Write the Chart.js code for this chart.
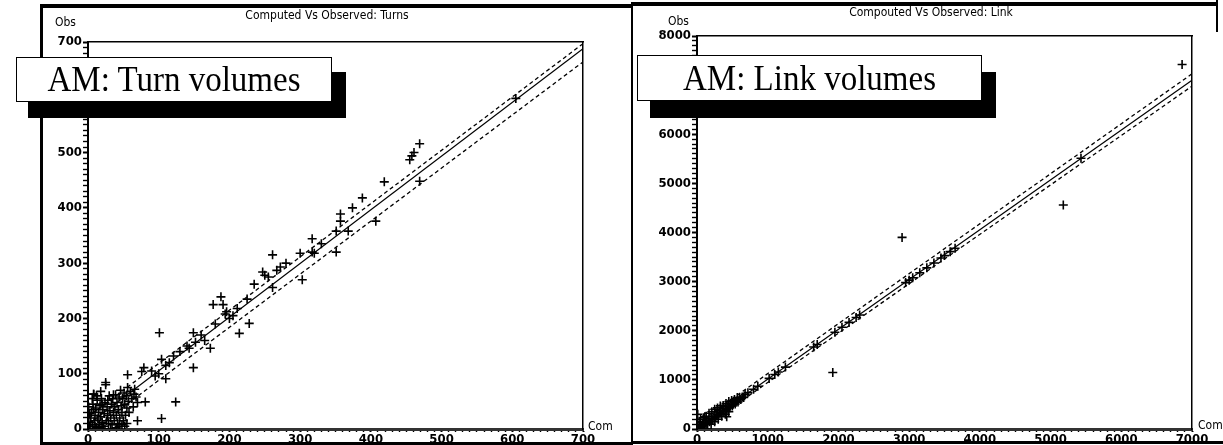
<!DOCTYPE html>
<html>
<head>
<meta charset="utf-8">
<script src="https://cdn.jsdelivr.net/npm/chart.js@4.4.1/dist/chart.umd.min.js"></script>
<style>
  html,body{margin:0;padding:0;background:#fff;width:1223px;height:445px;overflow:hidden;position:relative;}
  .abs{position:absolute;}
  .blk{position:absolute;background:#000;}
  .small{position:absolute;font-family:'DejaVu Sans Condensed','Liberation Sans Narrow',sans-serif;font-size:12px;color:#000;white-space:nowrap;}
  .banner{position:absolute;background:#fff;border:1.5px solid #000;font-family:'Liberation Serif','Times New Roman',serif;font-size:33px;color:#000;white-space:nowrap;text-align:center;box-sizing:border-box;}
  .banner span{display:inline-block;transform:scaleY(1.08);}
</style>
</head>
<body>
<canvas id="c1" class="abs" style="left:42px;top:0;width:590px;height:452px"></canvas>
<canvas id="c2" class="abs" style="left:633px;top:0;width:590px;height:452px"></canvas>

<!-- frame -->
<div class="blk" style="left:40px;top:4px;width:593px;height:4px"></div>
<div class="blk" style="left:632px;top:2px;width:586px;height:4px"></div>
<div class="blk" style="left:40px;top:4px;width:3px;height:441px"></div>
<div class="blk" style="left:40px;top:442px;width:592px;height:3px"></div>
<div class="blk" style="left:631px;top:2px;width:2px;height:443px"></div>
<div class="blk" style="left:631px;top:441px;width:592px;height:3px"></div>
<div class="blk" style="left:1216px;top:0px;width:2px;height:32px"></div>

<div class="small" id="t1" style="left:327px;top:8px;transform:translateX(-50%)"></div>
<div class="small" id="t2" style="left:931px;top:5px;transform:translateX(-50%)"></div>
<div class="small" style="left:55px;top:15px">Obs</div>
<div class="small" style="left:668px;top:14px">Obs</div>
<div class="small" style="left:588px;top:419px">Com</div>
<div class="small" style="left:1198px;top:418px">Com</div>

<div class="blk" style="left:28px;top:72px;width:318px;height:46px"></div>
<div class="banner" style="left:16px;top:57px;width:316px;height:45px;line-height:43px"><span id="b1"></span></div>
<div class="blk" style="left:650px;top:72px;width:346px;height:46px"></div>
<div class="banner" style="left:637px;top:55px;width:345px;height:46px;line-height:44px"><span id="b2"></span></div>

<script>
// ---- text ----
const titleTurns = "Computed Vs Observed: Turns";
const titleLink = "Compouted Vs Observed: Link";
const bannerTurns = "AM: Turn volumes";
const bannerLink = "AM: Link volumes";

// ---- axis ticks ----
const turnsTickMax = 700, turnsMinorStep = 10, turnsMajorStep = 100;
const linkXMax = 7000, linkYMax = 8000, linkMinorStep = 100, linkMajorStep = 1000;

// ---- Turns data (Computed, Observed) ----
const turnsCom = [2,3,4,5,6,7,8,9,10,11,12,13,14,15,16,17,18,19,20,21,22,23,24,25,26,27,28,29,30,31,32,33,34,35,36,37,38,39,40,41,42,43,44,45,46,47,48,49,50,51,52,53,54,55,56,57,58,60,62,64,66,68,70,1,2,3,6,8,10,12,15,18,20,24,28,32,36,40,44,48,52,55,
  101,177,188,191,261,247,250,261,272,267,303,300,317,317,351,351,357,357,368,374,407,228,214,211,194,196,173,149,149,152,143,124,104,70,110,104,121,110,79,76,56,81,65,25,8,
  90,95,100,115,130,140,160,165,180,200,205,225,235,255,280,320,330,
  605,458,461,469,455,419,388,469];
const turnsObs = [5,12,20,30,8,45,63,15,25,38,3,52,18,30,8,42,22,55,12,35,5,28,48,80,15,40,25,10,60,33,20,45,8,55,30,15,40,62,25,48,10,35,58,20,70,42,30,55,15,65,45,25,60,38,75,50,30,68,55,40,72,58,48,40,28,0,55,35,5,60,2,68,45,0,52,0,62,2,5,8,5,10,
  174,225,239,225,315,284,278,256,293,287,270,318,320,344,320,358,389,376,358,400,376,191,173,218,208,212,146,111,174,157,146,49,19,15,91,126,132,115,111,104,98,49,63,84,63,
  105,96,100,120,140,150,170,160,190,200,205,235,262,275,300,318,335,
  598,494,500,516,487,447,418,448];

// fitted line and band (Computed -> Observed)
const turnsFitCom = [0, 700];
const turnsFitObs = [8, 688];
const turnsUpperCom = [0, 700];
const turnsUpperObs = [22, 697];
const turnsLowerCom = [0, 700];
const turnsLowerObs = [-8, 664];

// ---- Link data (Computed, Observed) ----
const linkCom = [20,40,60,80,100,120,140,160,180,200,220,240,260,280,300,320,340,360,380,400,420,440,460,480,500,520,540,560,580,600,620,640,660,680,30,50,70,90,110,150,200,250,300,350,400,450,90,130,170,210,250,290,330,370,410,450,490,530,570,420,10,
  720,800,860,1020,1100,1150,1250,1650,1700,1950,2050,2150,2250,2300,2950,3000,3050,3150,3250,3350,3450,3500,3580,3650,
  1920,2900,5180,5430,6860];
const linkObs = [10,60,30,100,70,140,110,180,150,220,190,260,230,300,270,340,310,380,350,420,390,460,430,500,470,540,510,570,550,620,600,650,640,700,150,200,40,0,250,0,100,150,200,260,300,350,230,260,320,350,400,430,470,480,520,560,580,600,640,250,300,
  740,810,870,1030,1110,1160,1260,1670,1720,1970,2070,2170,2270,2320,2980,3030,3080,3180,3280,3380,3480,3530,3610,3680,
  1150,3900,4560,5510,7420];

const linkFitCom = [0, 7000];
const linkFitObs = [0, 7100];
const linkUpperCom = [0, 7000];
const linkUpperObs = [110, 7230];
const linkLowerCom = [0, 7000];
const linkLowerObs = [-60, 6980];

document.getElementById('t1').textContent = titleTurns;
document.getElementById('t2').textContent = titleLink;
document.getElementById('b1').textContent = bannerTurns;
document.getElementById('b2').textContent = bannerLink;

const FONT = "'DejaVu Sans Condensed','Liberation Sans Narrow',sans-serif";
const pts = (xs, ys) => xs.map((x, i) => ({x, y: ys[i]}));

function makeChart(id, cfg) {
  const majorLabel = (step) => (v) => (Math.round(v) % step === 0 ? String(Math.round(v)) : '');
  const majorWidth = (step) => (ctx) => (ctx.tick && Math.round(ctx.tick.value) % step === 0 ? 2 : 1.4);
  new Chart(document.getElementById(id), {
    type: 'scatter',
    data: {
      datasets: [
        {data: pts(cfg.com, cfg.obs), pointStyle: 'cross', pointRadius: 4.5, pointBorderWidth: 1.6,
         borderColor: '#000', backgroundColor: '#000', showLine: false},
        {data: pts(cfg.fitX, cfg.fitY), showLine: true, pointRadius: 0, borderColor: '#000', borderWidth: 1.2},
        {data: pts(cfg.upX, cfg.upY), showLine: true, pointRadius: 0, borderColor: '#000', borderWidth: 1.3, borderDash: [4, 3]},
        {data: pts(cfg.loX, cfg.loY), showLine: true, pointRadius: 0, borderColor: '#000', borderWidth: 1.3, borderDash: [4, 3]}
      ]
    },
    options: {
      responsive: false, animation: false, devicePixelRatio: 1,
      layout: {padding: {top: cfg.top, right: cfg.right, left: 0, bottom: 0}},
      plugins: {legend: {display: false}, tooltip: {enabled: false}},
      scales: {
        x: {type: 'linear', position: 'bottom', min: 0, max: cfg.xMax,
            afterFit: (s) => { s.height = cfg.xh; },
            ticks: {stepSize: cfg.minor, autoSkip: false, maxRotation: 0, minRotation: 0, padding: 0,
                    color: '#000', font: {family: FONT, size: 13, weight: 'bold'}, callback: majorLabel(cfg.major)},
            grid: {drawOnChartArea: false, drawTicks: true, tickLength: 3, color: '#000', tickWidth: majorWidth(cfg.major)},
            border: {display: true, color: '#333', width: 3}},
        y: {type: 'linear', position: 'left', min: 0, max: cfg.yMax,
            afterFit: (s) => { s.width = cfg.yw; },
            ticks: {stepSize: cfg.minor, autoSkip: false, padding: 1,
                    color: '#000', font: {family: FONT, size: 13, weight: 'bold'}, callback: majorLabel(cfg.major)},
            grid: {drawOnChartArea: false, drawTicks: true, tickLength: 5, color: '#000', tickWidth: majorWidth(cfg.major)},
            border: {display: true, color: '#000', width: 2}},
        x2: {type: 'linear', position: 'top', min: 0, max: cfg.xMax, afterFit: (s) => { s.height = 0; },
             ticks: {display: false}, grid: {display: false, drawTicks: false}, border: {display: true, color: '#000', width: 1.5}},
        y2: {type: 'linear', position: 'right', min: 0, max: cfg.yMax, afterFit: (s) => { s.width = 0; },
             ticks: {display: false}, grid: {display: false, drawTicks: false}, border: {display: true, color: '#000', width: 1.5}}
      }
    }
  });
}

const c1 = document.getElementById('c1'); c1.width = 590; c1.height = 452;
const c2 = document.getElementById('c2'); c2.width = 590; c2.height = 452;

makeChart('c1', {com: turnsCom, obs: turnsObs, fitX: turnsFitCom, fitY: turnsFitObs,
  upX: turnsUpperCom, upY: turnsUpperObs, loX: turnsLowerCom, loY: turnsLowerObs,
  xMax: turnsTickMax, yMax: turnsTickMax, minor: turnsMinorStep, major: turnsMajorStep,
  top: 42, right: 49, xh: 23, yw: 46});

makeChart('c2', {com: linkCom, obs: linkObs, fitX: linkFitCom, fitY: linkFitObs,
  upX: linkUpperCom, upY: linkUpperObs, loX: linkLowerCom, loY: linkLowerObs,
  xMax: linkXMax, yMax: linkYMax, minor: linkMinorStep, major: linkMajorStep,
  top: 36, right: 31, xh: 23, yw: 64});
</script>
</body>
</html>
